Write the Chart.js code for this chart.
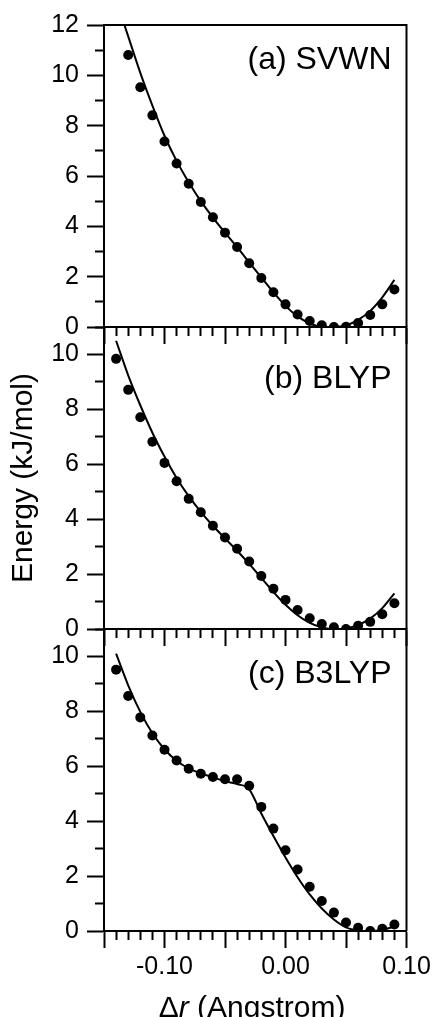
<!DOCTYPE html>
<html>
<head>
    <title>Energy vs bond displacement</title>
    <script src="https://cdn.jsdelivr.net/npm/chart.js"></script>
    <style>
        html, body {
            margin: 0;
            padding: 0;
            background: #fff;
            overflow: hidden;
        }
        #wrap {
            position: relative;
            width: 432px;
            height: 1017px;
        }
        #wrap canvas {
            position: absolute;
            left: 0;
            top: 0;
        }
        #xtitle {
            position: absolute;
            left: 52px;
            width: 400px;
            top: 992px;
            text-align: center;
            font-family: 'Liberation Sans', Arial, Helvetica, sans-serif;
            font-size: 30px;
            line-height: 30px;
            color: #000;
        }
    </style>
</head>
<body>
<div id="wrap">
    <canvas id="svwn" width="432" height="1017"></canvas>
    <canvas id="blyp" width="432" height="1017"></canvas>
    <canvas id="b3lyp" width="432" height="1017"></canvas>
    <div id="xtitle">Δ<i>r</i> (Angstrom)</div>
</div>

<script>
    // displacement grid (Angstrom), shared by all three panels
    const dr = [-0.14, -0.13, -0.12, -0.11, -0.10, -0.09, -0.08, -0.07, -0.06, -0.05, -0.04, -0.03,
                -0.02, -0.01, 0.00, 0.01, 0.02, 0.03, 0.04, 0.05, 0.06, 0.07, 0.08, 0.09];

    // (a) SVWN - dots and fitted curve (kJ/mol)
    const svwnDots = [null, 10.81, 9.53, 8.41, 7.37, 6.50, 5.69, 4.97, 4.36, 3.75, 3.18, 2.53,
                      1.95, 1.38, 0.90, 0.50, 0.24, 0.07, 0.00, 0.01, 0.16, 0.48, 0.90, 1.49];
    const svwnCurve = [13.0, 11.55, 10.1, 8.8, 7.6, 6.6, 5.75, 5.0, 4.35, 3.75, 3.17, 2.57,
                       1.97, 1.38, 0.84, 0.42, 0.14, 0.01, 0.00, 0.06, 0.28, 0.64, 1.18, 1.87];

    // (b) BLYP
    const blypDots = [9.84, 8.71, 7.71, 6.82, 6.05, 5.38, 4.74, 4.25, 3.76, 3.33, 2.92, 2.46,
                      1.93, 1.47, 1.06, 0.69, 0.39, 0.18, 0.06, 0.00, 0.12, 0.26, 0.54, 0.94];
    const blypCurve = [10.5, 9.24, 8.15, 7.15, 6.28, 5.5, 4.84, 4.27, 3.76, 3.3, 2.85, 2.37,
                       1.86, 1.35, 0.88, 0.5, 0.22, 0.06, 0.00, 0.02, 0.15, 0.38, 0.76, 1.3];

    // (c) B3LYP
    const b3lypDots = [9.52, 8.56, 7.78, 7.12, 6.60, 6.21, 5.91, 5.73, 5.61, 5.53, 5.53, 5.29,
                       4.52, 3.73, 2.94, 2.24, 1.61, 1.09, 0.67, 0.31, 0.12, 0.00, 0.08, 0.24];
    const b3lypCurve = [10.1, 8.95, 7.98, 7.2, 6.62, 6.2, 5.92, 5.74, 5.6, 5.45, 5.35, 5.16,
                        4.28, 3.46, 2.68, 1.96, 1.33, 0.82, 0.42, 0.13, 0.02, 0.00, 0.04, 0.16];

    const panelNames = ['(a) SVWN', '(b) BLYP', '(c) B3LYP'];
    const yTitle = 'Energy (kJ/mol)';

    Chart.defaults.font.family = "'Liberation Sans', Arial, Helvetica, sans-serif";
    Chart.defaults.color = '#000';

    // minor ticks get a short dash so only part of the tick line shows
    const isMinorX = c => c.tick && Math.round(c.tick.value * 100) % 5 !== 0;
    const isMinorY = c => c.tick && Math.round(c.tick.value) % 2 !== 0;

    // top/right frame lines + the panel name in the upper right corner
    const panelFrame = {
        id: 'panelFrame',
        afterDraw(chart, args, opts) {
            const ctx = chart.ctx;
            const a = chart.chartArea;
            ctx.save();
            ctx.strokeStyle = '#000';
            ctx.lineWidth = 2;
            ctx.beginPath();
            ctx.moveTo(a.left, a.top);
            ctx.lineTo(a.right, a.top);
            ctx.lineTo(a.right, a.bottom);
            ctx.stroke();
            ctx.fillStyle = '#000';
            ctx.font = "32px 'Liberation Sans', Arial, Helvetica, sans-serif";
            ctx.textAlign = 'right';
            ctx.textBaseline = 'alphabetic';
            ctx.fillText(opts.text, a.right - 15, a.top + opts.dy);
            ctx.restore();
        }
    };

    function drawPanel(id, p) {
        return new Chart(document.getElementById(id), {
            type: 'line',
            data: {
                datasets: [{
                    data: dr.map((x, i) => ({x: x, y: p.dots[i]})),
                    showLine: false,
                    pointRadius: 5,
                    pointBackgroundColor: '#000',
                    pointBorderColor: '#000',
                    pointBorderWidth: 0
                }, {
                    data: dr.map((x, i) => ({x: x, y: p.curve[i]})),
                    borderColor: '#000',
                    borderWidth: 2,
                    pointRadius: 0,
                    cubicInterpolationMode: 'monotone',
                    fill: false
                }]
            },
            options: {
                responsive: false,
                animation: false,
                devicePixelRatio: 1,
                events: [],
                layout: {
                    padding: {left: 6, right: 25.5, top: p.top, bottom: 1017 - p.bottom - p.axisH}
                },
                plugins: {
                    legend: {display: false},
                    tooltip: {enabled: false},
                    panelFrame: {text: p.label, dy: p.labelDy}
                },
                scales: {
                    x: {
                        type: 'linear',
                        position: 'bottom',
                        min: -0.15,
                        max: 0.10,
                        afterFit(s) {
                            s.height = p.axisH;
                            s.paddingLeft = 0;  // keep all panels the same width
                            s.paddingRight = 0;
                        },
                        ticks: {
                            stepSize: 0.01,
                            autoSkip: false,
                            maxRotation: 0,
                            padding: 4,
                            font: {size: 25},
                            callback: v => {
                                const r = Math.round(v * 100);
                                if (!p.xLabels || r % 10 !== 0) return '';
                                return (r / 100).toFixed(2);
                            }
                        },
                        grid: {
                            drawOnChartArea: false,
                            tickLength: 17,
                            tickWidth: 2,
                            tickColor: '#000',
                            tickBorderDash: c => isMinorX(c) ? [8, 40] : []
                        },
                        border: {color: '#000', width: 2}
                    },
                    y: {
                        min: 0,
                        max: p.yMax,
                        afterFit(s) { s.width = 98; },
                        ticks: {
                            stepSize: 1,
                            autoSkip: false,
                            padding: 8,
                            font: {size: 25},
                            callback: v => (Math.round(v) % 2 === 0 ? v : '')
                        },
                        grid: {
                            drawOnChartArea: false,
                            tickLength: 17,
                            tickWidth: 2,
                            tickColor: '#000',
                            tickBorderDash: c => isMinorY(c) ? [8, 8] : [],
                            tickBorderDashOffset: c => isMinorY(c) ? 8 : 0
                        },
                        border: {color: '#000', width: 2},
                        title: {
                            display: !!p.yTitle,
                            text: p.yTitle || '',
                            font: {size: 30},
                            padding: 0
                        }
                    }
                }
            },
            plugins: [panelFrame]
        });
    }

    drawPanel('svwn', {dots: svwnDots, curve: svwnCurve, yMax: 12, label: panelNames[0], labelDy: 44,
                       top: 25, bottom: 327, axisH: 20, xLabels: false});
    drawPanel('blyp', {dots: blypDots, curve: blypCurve, yMax: 11, label: panelNames[1], labelDy: 61,
                       top: 327, bottom: 629, axisH: 20, xLabels: false, yTitle: yTitle});
    drawPanel('b3lyp', {dots: b3lypDots, curve: b3lypCurve, yMax: 11, label: panelNames[2], labelDy: 54,
                        top: 629, bottom: 931, axisH: 60, xLabels: true});
</script>
</body>
</html>
